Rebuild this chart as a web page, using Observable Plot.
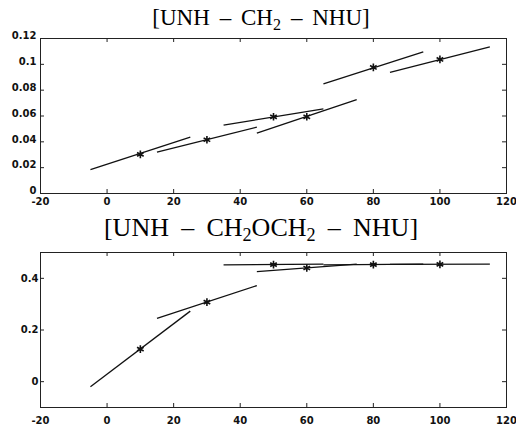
<!DOCTYPE html>
<html><head><meta charset="utf-8">
<script src="https://cdn.jsdelivr.net/npm/d3@7"></script>
<script src="https://cdn.jsdelivr.net/npm/@observablehq/plot@0.6"></script>
<style>
body{margin:0;background:#fff;}
#wrap{position:relative;width:516px;height:426px;overflow:hidden;background:#fff;}
.title{position:absolute;left:0;width:522px;text-align:center;font-family:"Liberation Serif","Times New Roman",serif;color:#000;line-height:1;white-space:nowrap;}
.title sub{font-size:0.7em;vertical-align:-0.28em;line-height:0;}
.title .op{margin:0 0.18em;}
.plot{position:absolute;left:0;}
</style></head><body><div id="wrap">
<div class="title" id="t1" style="top:6px;font-size:23px;">[UNH <span class="op">–</span> CH<sub>2</sub> <span class="op">–</span> NHU]</div>
<div class="title" id="t2" style="top:215px;font-size:26px;">[UNH <span class="op" style="margin:0 0.22em">–</span> CH<sub>2</sub>OCH<sub>2</sub> <span class="op" style="margin:0 0.22em">–</span> NHU]</div>
</div>
<script>
// shared x data
const xTicks = [-20, 0, 20, 40, 60, 80, 100, 120];
const xs = [10, 30, 50, 60, 80, 100];
const segLeftX = [-5, 15, 35, 45, 65, 85];
const segRightX = [25, 45, 65, 75, 95, 115];

// top panel: [UNH - CH2 - NHU]
const topY = [0.0303, 0.0416, 0.0594, 0.0594, 0.0976, 0.1038];
const topSegLeftY = [0.0185, 0.0321, 0.0529, 0.0467, 0.0848, 0.0938];
const topSegRightY = [0.0436, 0.0514, 0.0655, 0.0727, 0.1097, 0.1136];
const topYTicks = [0, 0.02, 0.04, 0.06, 0.08, 0.1, 0.12];
const topYDomain = [0, 0.12];

// bottom panel: [UNH - CH2OCH2 - NHU]
const botY = [0.126, 0.308, 0.453, 0.440, 0.453, 0.454];
const botSegLeftY = [-0.020, 0.245, 0.452, 0.426, 0.452, 0.454];
const botSegRightY = [0.273, 0.372, 0.455, 0.455, 0.455, 0.455];
const botYTicks = [0, 0.2, 0.4];
const botYDomain = [-0.1, 0.5];

function panel({y, yL, yR, yTicks, yDomain, marginTop, marginBottom, xPad, yPad, yDy}) {
  const pts = xs.map((x, i) => ({x, y: y[i]}));
  const segs = xs.map((x, i) => ({x1: segLeftX[i], x2: segRightX[i], y1: yL[i], y2: yR[i]}));
  const W = 516, H = 180, mL = 40, mR = 10;
  const fh = H - marginTop - marginBottom, fw = W - mL - mR;
  const tk = 4;
  return Plot.plot({
    width: W, height: H,
    marginLeft: mL, marginRight: mR, marginTop, marginBottom,
    x: {domain: [-20, 120]},
    y: {domain: yDomain},
    style: {fontFamily: "DejaVu Sans", fontSize: "10px", fontWeight: "bold", color: "#111", background: "transparent", overflow: "visible"},
    marks: [
      Plot.tickX(xTicks, {insetTop: fh - tk, stroke: "#222", strokeWidth: 1}),
      Plot.tickX(xTicks, {insetBottom: fh - tk, stroke: "#222", strokeWidth: 1}),
      Plot.tickY(yTicks, {insetRight: fw - tk, stroke: "#222", strokeWidth: 1}),
      Plot.tickY(yTicks, {insetLeft: fw - tk, stroke: "#222", strokeWidth: 1}),
      Plot.frame({stroke: "#222", strokeWidth: 1}),
      Plot.axisX(xTicks, {tickSize: 0, tickPadding: xPad, tickFormat: d => String(d), label: null}),
      Plot.axisY(yTicks, {tickSize: 0, tickPadding: yPad, dy: yDy, tickFormat: d => String(d), label: null}),
      Plot.link(segs, {x1: "x1", y1: "y1", x2: "x2", y2: "y2", stroke: "#111", strokeWidth: 1.3}),
      Plot.dot(pts, {x: "x", y: "y", symbol: "asterisk", r: 3.6, stroke: "#111", strokeWidth: 1.6})
    ]
  });
}

const wrap = document.getElementById("wrap");
const p1 = panel({y: topY, yL: topSegLeftY, yR: topSegRightY, yTicks: topYTicks, yDomain: topYDomain, marginTop: 8, marginBottom: 17, xPad: 4, yPad: 4, yDy: -2.5});
p1.classList.add("plot"); p1.style.top = "30px";
wrap.appendChild(p1);
const p2 = panel({y: botY, yL: botSegLeftY, yR: botSegRightY, yTicks: botYTicks, yDomain: botYDomain, marginTop: 7, marginBottom: 18, xPad: 9, yPad: 2, yDy: 0});
p2.classList.add("plot"); p2.style.top = "245px";
wrap.appendChild(p2);
</script>
</body></html>
